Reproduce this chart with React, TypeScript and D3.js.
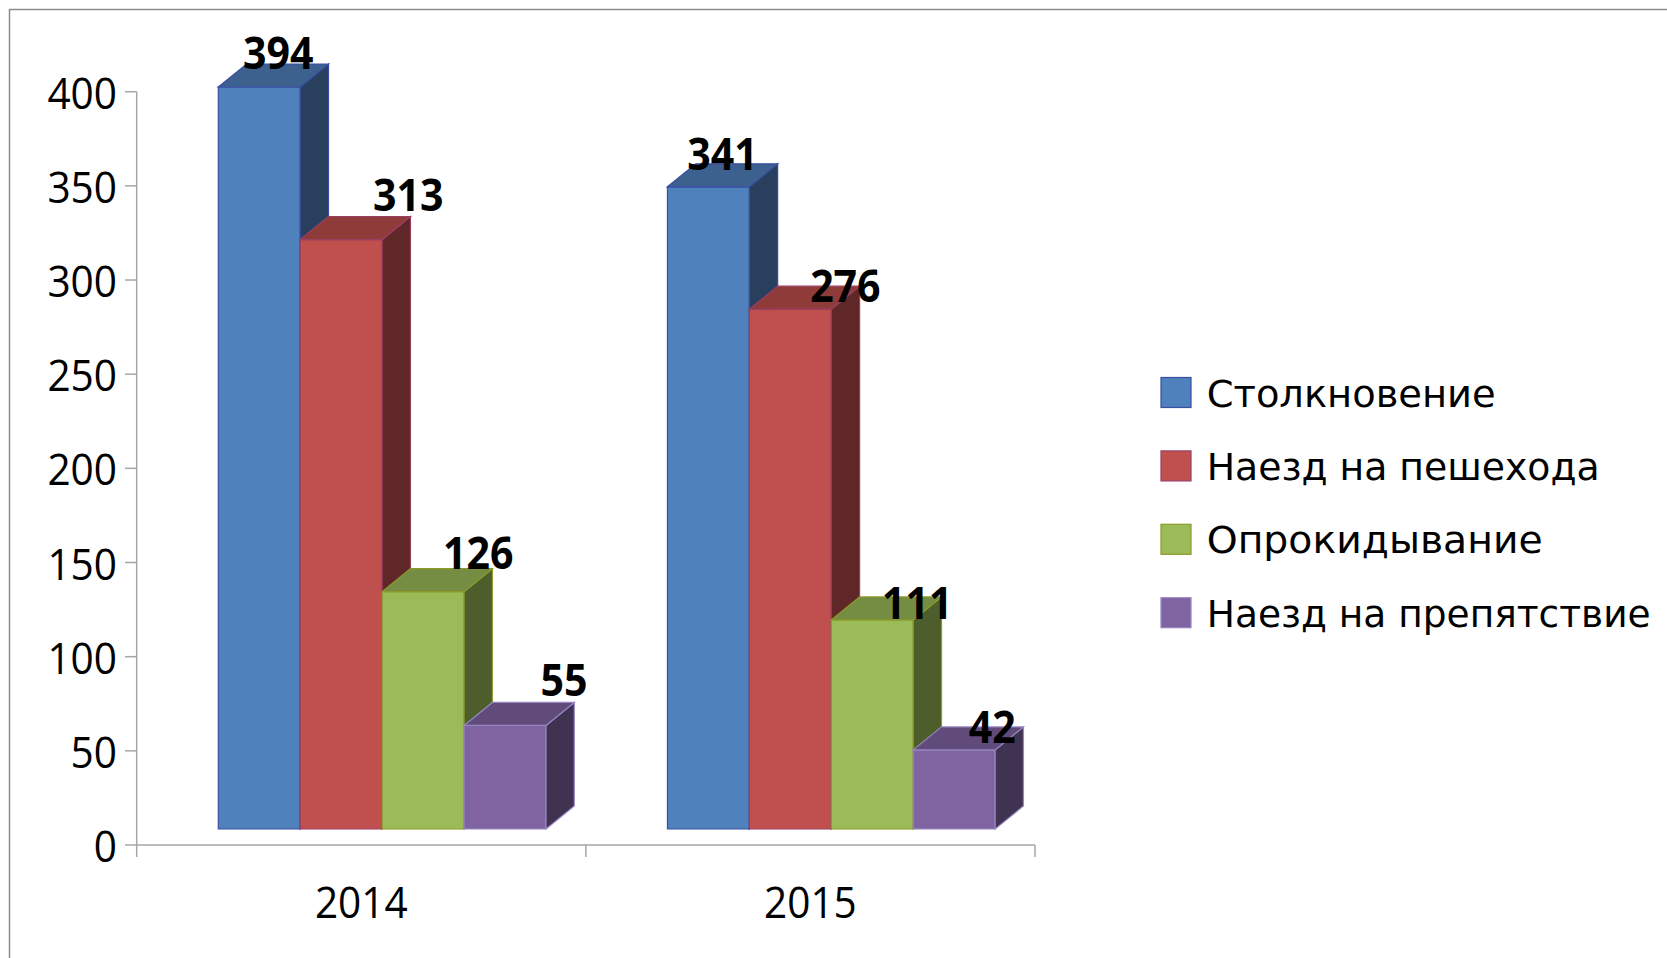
import React from 'react';
import * as d3 from 'd3';

// ---- data ----
const categories = ['2014', '2015'];
const seriesNames = ['Столкновение', 'Наезд на пешехода', 'Опрокидывание', 'Наезд на препятствие'];
const values2014 = [394, 313, 126, 55];
const values2015 = [341, 276, 111, 42];
const yTicks = [0, 50, 100, 150, 200, 250, 300, 350, 400];

// ---- styles ----
const frontColors = ['#4F81BD', '#C0504D', '#9BBB59', '#8064A2'];
const topColors = ['#3C618F', '#8F3B3A', '#748D43', '#604B7A'];
const sideColors = ['#293F5E', '#5F2727', '#4D5E2C', '#403251'];
const strokeColors = ['#3A4EA3', '#9A3E62', '#8A9A2A', '#9587C0'];
// label nudges relative to bar front-left / back-top (layout only)
const labelDx = [[60, 108, 96, 100], [55, 96, 86, 79]];
const labelDy = [[5, -6, 0, -6], [6, 16, 22, 16]];
const legendWidths = [289, 393, 336, 444];

const W = 1667;
const H = 958;
const axisX0 = 136.7;
const axisX1 = 1035;
const depthX = 28.3;
const depthY = -23;
const floorLift = 16;
const digitW = 23.2;

export default function App() {
  const seriesValues = [values2014, values2015];
  const y = d3.scaleLinear().domain([0, 400]).range([845, 91.7]);
  const x = d3.scaleBand<string>().domain(categories).range([axisX0, axisX1]).padding(0);
  const xs = d3
    .scaleBand<number>()
    .domain(d3.range(seriesNames.length))
    .range([81.6, 81.6 + 327.7])
    .padding(0);

  const font = '"Open Sans", "DejaVu Sans", sans-serif';
  const axisColor = '#A6A6A6';

  const bars: React.ReactNode[] = [];
  const labels: React.ReactNode[] = [];
  categories.forEach((cat, ci) => {
    const vals = seriesValues[ci];
    vals.forEach((v, si) => {
      const l = (x(cat) as number) + (xs(si) as number);
      const r = l + xs.bandwidth();
      const top = y(v) - floorLift;
      const bottom = y(0) - floorLift;
      const stroke = strokeColors[si];
      const front = `M${l},${top}L${r},${top}L${r},${bottom}L${l},${bottom}Z`;
      const topFace = `M${l},${top}L${l + depthX},${top + depthY}L${r + depthX},${top + depthY}L${r},${top}Z`;
      const side = `M${r},${top}L${r + depthX},${top + depthY}L${r + depthX},${bottom + depthY}L${r},${bottom}Z`;
      bars.push(
        <g key={`b-${ci}-${si}`}>
          <path d={front} fill={frontColors[si]} stroke={stroke} strokeWidth={1.2} />
          <path d={side} fill={sideColors[si]} stroke={stroke} strokeWidth={1.2} />
          <path d={topFace} fill={topColors[si]} stroke={stroke} strokeWidth={1.2} />
        </g>
      );
      const s = String(v);
      labels.push(
        <text
          key={`l-${ci}-${si}`}
          x={l + labelDx[ci][si]}
          y={top + depthY + labelDy[ci][si]}
          textAnchor="middle"
          fontFamily={font}
          fontWeight="bold"
          fontSize={44}
          textLength={s.length * 23.5}
          lengthAdjust="spacingAndGlyphs"
          fill="#000"
        >
          {s}
        </text>
      );
    });
  });

  return (
    <svg
      width={W}
      height={H}
      style={{ position: 'absolute', left: 0, top: 0, display: 'block', background: '#fff' }}
    >
      {/* chart frame */}
      <path d={`M9.5,${H + 5}L9.5,9.5L${W + 5},9.5`} fill="none" stroke="#8C8C8C" strokeWidth={1.5} />

      {/* y axis */}
      <line x1={axisX0} x2={axisX0} y1={y(400)} y2={y(0)} stroke={axisColor} strokeWidth={1.5} />
      {yTicks.map((t) => {
        const s = String(t);
        return (
          <g key={`yt-${t}`}>
            <line x1={125} x2={axisX0} y1={y(t)} y2={y(t)} stroke={axisColor} strokeWidth={1.5} />
            <text
              x={117}
              y={y(t) + 17}
              textAnchor="end"
              fontFamily={font}
              fontSize={44}
              textLength={s.length * digitW}
              lengthAdjust="spacingAndGlyphs"
              fill="#000"
            >
              {s}
            </text>
          </g>
        );
      })}

      {/* x axis */}
      <line x1={axisX0} x2={axisX1} y1={y(0)} y2={y(0)} stroke={axisColor} strokeWidth={1.5} />
      {[...categories.map((c) => x(c) as number), axisX1].map((px, i) => (
        <line key={`xt-${i}`} x1={px} x2={px} y1={y(0)} y2={y(0) + 12} stroke={axisColor} strokeWidth={1.5} />
      ))}
      {categories.map((c) => (
        <text
          key={`xl-${c}`}
          x={(x(c) as number) + x.bandwidth() / 2}
          y={918}
          textAnchor="middle"
          fontFamily={font}
          fontSize={44}
          textLength={c.length * digitW}
          lengthAdjust="spacingAndGlyphs"
          fill="#000"
        >
          {c}
        </text>
      ))}

      {bars}
      {labels}

      {/* legend */}
      {seriesNames.map((name, i) => {
        const cy = 392.5 + i * 73.4;
        return (
          <g key={`lg-${i}`}>
            <rect
              x={1161}
              y={cy - 15}
              width={30}
              height={30}
              fill={frontColors[i]}
              stroke={strokeColors[i]}
              strokeWidth={1.2}
            />
            <text
              x={1206.7}
              y={cy + 14}
              fontFamily='"DejaVu Sans", sans-serif'
              fontSize={37}
              textLength={legendWidths[i]}
              lengthAdjust="spacingAndGlyphs"
              fill="#000"
            >
              {name}
            </text>
          </g>
        );
      })}
    </svg>
  );
}
